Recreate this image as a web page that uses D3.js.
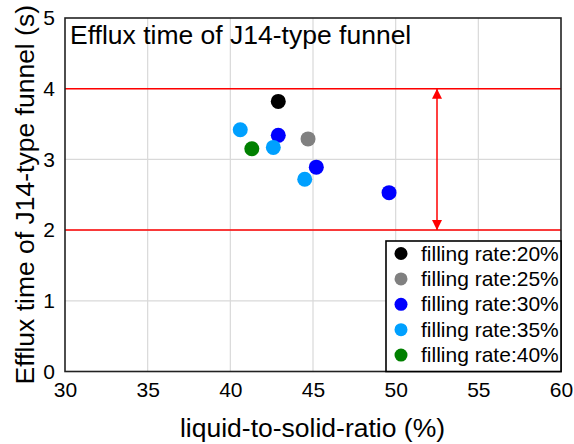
<!DOCTYPE html>
<html>
<head>
<meta charset="utf-8">
<script src="https://cdn.jsdelivr.net/npm/d3@7"></script>
<style>
  html, body { margin: 0; padding: 0; background: #fff; }
  svg { display: block; font-family: "Liberation Sans", Arial, sans-serif; }
</style>
</head>
<body>
<svg id="chart" width="574" height="444"></svg>
<script>
// Efflux time measurements grouped by filling rate
const seriesNames = ["filling rate:20%", "filling rate:25%", "filling rate:30%", "filling rate:35%", "filling rate:40%"];
const seriesColors = ["#000000", "#808080", "#0000ff", "#00a0ff", "#008000"];
const ratio20 = [42.9];
const time20 = [3.82];
const ratio25 = [44.7];
const time25 = [3.29];
const ratio30 = [42.9, 45.2, 49.6];
const time30 = [3.34, 2.89, 2.53];
const ratio35 = [40.6, 42.6, 44.5];
const time35 = [3.42, 3.17, 2.72];
const ratio40 = [41.3];
const time40 = [3.15];

const xTicks = [30, 35, 40, 45, 50, 55, 60];
const yTicks = [0, 1, 2, 3, 4, 5];
const limitLines = [2, 4];
const arrowAt = 52.5;

const seriesRatios = [ratio20, ratio25, ratio30, ratio35, ratio40];
const seriesTimes = [time20, time25, time30, time35, time40];

const svg = d3.select("#chart");
const plotL = 65, plotR = 561, plotT = 18, plotB = 371.5;

const x = d3.scaleLinear().domain([30, 60]).range([plotL, plotR]);
const y = d3.scaleLinear().domain([0, 5]).range([plotB, plotT]);

// grid
const grid = svg.append("g");
grid.selectAll("line.gx").data(xTicks.slice(1, -1)).enter().append("line")
  .attr("x1", d => x(d)).attr("x2", d => x(d))
  .attr("y1", plotT).attr("y2", plotB)
  .attr("stroke", "#d9d9d9").attr("stroke-width", 1.2);
grid.selectAll("line.gy").data(yTicks.slice(1, -1)).enter().append("line")
  .attr("x1", plotL).attr("x2", plotR)
  .attr("y1", d => y(d)).attr("y2", d => y(d))
  .attr("stroke", "#d9d9d9").attr("stroke-width", 1.2);

// limit lines
svg.selectAll("line.limit").data(limitLines).enter().append("line")
  .attr("x1", plotL).attr("x2", plotR)
  .attr("y1", d => y(d)).attr("y2", d => y(d))
  .attr("stroke", "#ff0000").attr("stroke-width", 1.5);

// double-headed arrow between the limits
const defs = svg.append("defs");
defs.append("marker").attr("id", "ah").attr("viewBox", "0 0 10 10")
  .attr("refX", 10).attr("refY", 5).attr("markerWidth", 10).attr("markerHeight", 10)
  .attr("markerUnits", "userSpaceOnUse").attr("orient", "auto-start-reverse")
  .append("path").attr("d", "M0,0 L10,5 L0,10 Z").attr("fill", "#ff0000");
svg.append("line")
  .attr("x1", x(arrowAt)).attr("x2", x(arrowAt))
  .attr("y1", y(limitLines[1])).attr("y2", y(limitLines[0]))
  .attr("stroke", "#ff0000").attr("stroke-width", 1.5)
  .attr("marker-start", "url(#ah)").attr("marker-end", "url(#ah)");

// points
seriesNames.forEach((name, i) => {
  svg.append("g").selectAll("circle")
    .data(seriesRatios[i].map((r, j) => [r, seriesTimes[i][j]]))
    .enter().append("circle")
    .attr("cx", d => x(d[0])).attr("cy", d => y(d[1])).attr("r", 7.5)
    .attr("fill", seriesColors[i]);
});

// frame
svg.append("rect").attr("x", plotL).attr("y", plotT)
  .attr("width", plotR - plotL).attr("height", plotB - plotT)
  .attr("fill", "none").attr("stroke", "#222").attr("stroke-width", 1.6);

// axes (labels only)
const xAxis = svg.append("g").attr("transform", `translate(0,${plotB})`)
  .call(d3.axisBottom(x).tickValues(xTicks).tickFormat(d3.format("d")).tickSize(0).tickPadding(11));
const yAxis = svg.append("g").attr("transform", `translate(${plotL},0)`)
  .call(d3.axisLeft(y).tickValues(yTicks).tickFormat(d3.format("d")).tickSize(0).tickPadding(10));
[xAxis, yAxis].forEach(a => {
  a.select(".domain").remove();
  a.selectAll("text").attr("font-size", 21).attr("fill", "#000")
    .attr("font-family", '"Liberation Sans", Arial, sans-serif');
});

// in-plot title
svg.append("text").attr("x", plotL + 5).attr("y", 44)
  .attr("font-size", 26.5).text("Efflux time of J14-type funnel");

// axis titles
svg.append("text").attr("x", (plotL + plotR) / 2 - 0.5).attr("y", 437)
  .attr("text-anchor", "middle").attr("font-size", 26.5)
  .text("liquid-to-solid-ratio (%)");
svg.append("text")
  .attr("transform", `translate(34,${(plotT + plotB) / 2}) rotate(-90)`)
  .attr("text-anchor", "middle").attr("font-size", 26.5)
  .text("Efflux time of J14-type funnel (s)");

// legend
const lg = svg.append("g");
lg.append("rect").attr("x", 386).attr("y", 241).attr("width", plotR - 386).attr("height", plotB - 241)
  .attr("fill", "#fff").attr("stroke", "#000").attr("stroke-width", 1.6);
const items = lg.selectAll("g.item").data(seriesNames).enter().append("g")
  .attr("transform", (d, i) => `translate(401,${253.5 + i * 25.4})`);
items.append("circle").attr("r", 6.5).attr("fill", (d, i) => seriesColors[i]);
items.append("text").attr("x", 20).attr("y", 7).attr("font-size", 21).text(d => d);
</script>
</body>
</html>
